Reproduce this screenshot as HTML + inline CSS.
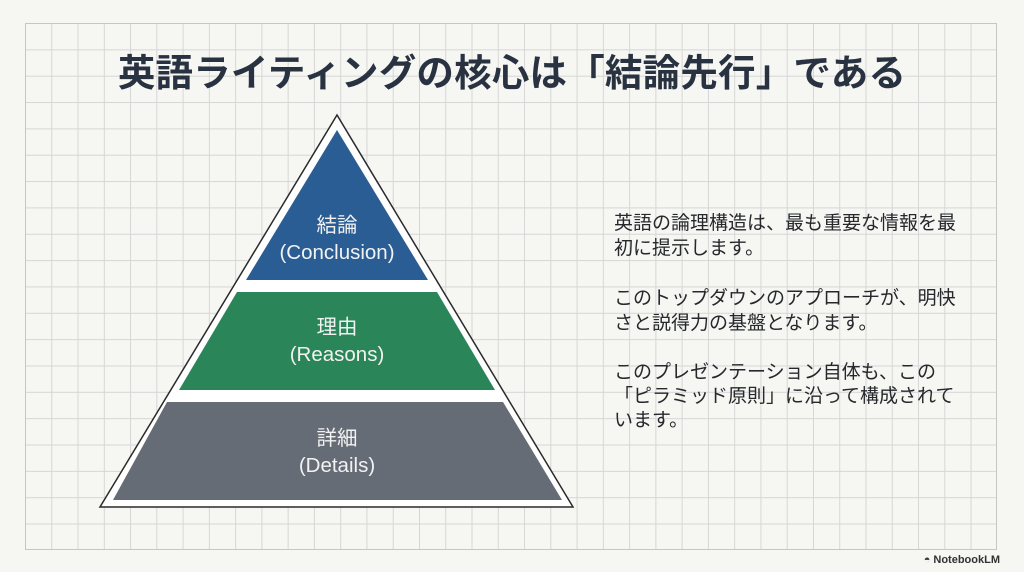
<!DOCTYPE html>
<html><head><meta charset="utf-8"><style>
body{margin:0;width:1024px;height:572px;background:#f6f6f3;position:relative;overflow:hidden;font-family:"Liberation Sans","Noto Sans CJK JP",sans-serif;}
.grid{position:absolute;left:25px;top:23px;width:972px;height:527px;border:1px solid #c6c6c6;box-sizing:border-box;
background-image:linear-gradient(to right,#d6d6d6 1px,transparent 1px),linear-gradient(to bottom,#d6d6d6 1px,transparent 1px);
background-size:26.27px 26.35px;background-position:-1px -1px;}
.title{position:absolute;left:0;width:1024px;top:42px;text-align:center;font-size:37.5px;font-weight:bold;color:#283240;white-space:nowrap;letter-spacing:0.2px;}
.t{position:absolute;left:614px;font-size:19px;color:#26282c;white-space:nowrap;line-height:24px;}
.nb{position:absolute;right:24px;top:554px;font-size:11px;color:#333;font-weight:bold;}
</style></head><body>
<div class="grid"></div>
<div class="title">英語ライティングの核心は「結論先行」である</div>
<svg width="1024" height="572" style="position:absolute;left:0;top:0">
<polygon points="337,115 100,507 573,507" fill="#fff" stroke="#2a2a2a" stroke-width="1.5"/>
<polygon points="337,130 246,280 428,280" fill="#2a5d94"/>
<polygon points="237,292 437,292 495,390 179,390" fill="#2a8558"/>
<polygon points="167,402 503,402 562,500 113,500" fill="#656c75"/>
<g font-family="Liberation Sans,Noto Sans CJK JP,sans-serif" font-size="20.5" fill="#f2f2f2" text-anchor="middle">
<text x="337" y="232">結論</text>
<text x="337" y="259">(Conclusion)</text>
<text x="337" y="334">理由</text>
<text x="337" y="361">(Reasons)</text>
<text x="337" y="445">詳細</text>
<text x="337" y="472">(Details)</text>
</g>
</svg>
<div class="t" style="top:212px">英語の論理構造は、最も重要な情報を最</div>
<div class="t" style="top:237px">初に提示します。</div>
<div class="t" style="top:287px">このトップダウンのアプローチが、明快</div>
<div class="t" style="top:312px">さと説得力の基盤となります。</div>
<div class="t" style="top:361px">このプレゼンテーション自体も、この</div>
<div class="t" style="top:385px">「ピラミッド原則」に沿って構成されて</div>
<div class="t" style="top:409px">います。</div>
<div class="nb">◓ NotebookLM</div>
</body></html>
